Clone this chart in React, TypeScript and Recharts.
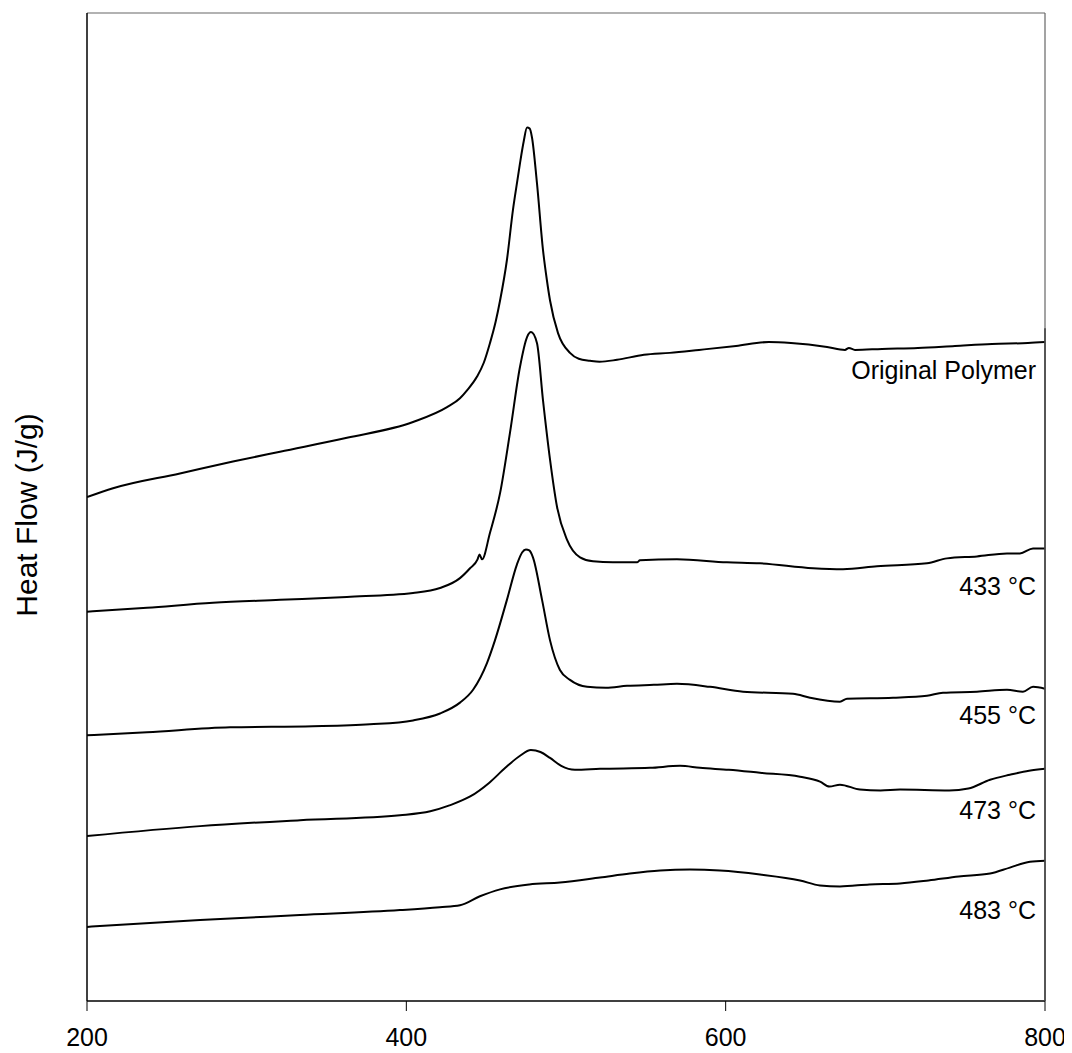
import React from "react";
import { LineChart, Line, XAxis, YAxis, ReferenceDot, ReferenceLine } from "recharts";

// Temperature (°C) and heat flow (arbitrary offset units) for each trace
const originalT = [200, 216.3, 258.2, 291.4, 320.9, 362.8, 404.2, 425.5, 433.6, 438.0, 444.3, 448.5, 452.4, 456.0, 458.7, 463.0, 466.8, 469.5, 471.2, 473.5, 475.6, 477.3, 478.7, 481.8, 485.6, 488.0, 490.0, 495.0, 502.5, 508.0, 515.0, 521.0, 532.0, 548.8, 565.0, 583.3, 606.5, 627.1, 640.9, 663.5, 674.7, 677.2, 681.0, 697.9, 720.4, 743.6, 766.8, 789.3, 800];
const originalV = [5.10, 5.19, 5.34, 5.46, 5.56, 5.70, 5.86, 6.01, 6.10, 6.18, 6.32, 6.46, 6.66, 6.88, 7.09, 7.50, 8.01, 8.30, 8.48, 8.70, 8.84, 8.83, 8.74, 8.28, 7.60, 7.30, 7.09, 6.76, 6.56, 6.50, 6.48, 6.47, 6.49, 6.54, 6.56, 6.59, 6.63, 6.67, 6.66, 6.62, 6.59, 6.61, 6.59, 6.60, 6.61, 6.63, 6.65, 6.66, 6.67];

const t433T = [200, 237.6, 278.9, 320.9, 362.8, 404.2, 421.1, 433.6, 439.9, 444.6, 445.8, 447.4, 452.4, 458.7, 464.9, 471.2, 475.6, 478.1, 481.8, 485.6, 490.0, 494.4, 500.6, 508.8, 516.9, 529.4, 544.5, 546.3, 569.5, 600.8, 621.5, 654.7, 673.5, 694.8, 726.1, 738.6, 757.4, 776.2, 784.3, 792.5, 800];
const t433V = [3.94, 3.98, 4.03, 4.06, 4.09, 4.13, 4.18, 4.28, 4.38, 4.47, 4.52, 4.47, 4.74, 5.14, 5.75, 6.42, 6.72, 6.77, 6.66, 6.08, 5.48, 5.00, 4.67, 4.49, 4.45, 4.44, 4.44, 4.46, 4.47, 4.44, 4.43, 4.38, 4.37, 4.40, 4.43, 4.48, 4.50, 4.53, 4.53, 4.58, 4.58];

const t455T = [200, 237.6, 289.6, 341.5, 377.2, 404.2, 421.1, 433.6, 441.8, 450.5, 455.5, 463.0, 469.3, 472.5, 474.9, 477.0, 479.3, 485.0, 490.0, 496.2, 502.5, 513.2, 525.0, 538.2, 555.0, 569.5, 590.2, 610.9, 642.2, 652.8, 671.6, 676.0, 704.8, 726.1, 736.1, 757.4, 776.2, 786.2, 792.5, 800];
const t455V = [2.69, 2.72, 2.77, 2.78, 2.80, 2.84, 2.91, 3.02, 3.15, 3.42, 3.65, 4.06, 4.42, 4.54, 4.57, 4.56, 4.49, 4.06, 3.65, 3.35, 3.25, 3.18, 3.17, 3.19, 3.20, 3.21, 3.18, 3.13, 3.11, 3.07, 3.03, 3.06, 3.07, 3.09, 3.12, 3.13, 3.15, 3.13, 3.18, 3.16];

const t473T = [200, 270.8, 333.4, 396.0, 415.0, 427.0, 440.0, 452.0, 462.0, 471.0, 478.0, 484.0, 490.0, 497.0, 505.6, 521.3, 552.6, 571.4, 583.9, 602.0, 621.5, 646.6, 659.1, 665.0, 671.6, 684.1, 697.0, 709.2, 740.0, 752.0, 765.6, 778.0, 790.0, 800];
const t473V = [1.67, 1.77, 1.83, 1.88, 1.92, 1.98, 2.07, 2.21, 2.36, 2.48, 2.54, 2.52, 2.46, 2.38, 2.34, 2.35, 2.36, 2.38, 2.36, 2.34, 2.31, 2.27, 2.22, 2.17, 2.19, 2.14, 2.13, 2.14, 2.13, 2.15, 2.24, 2.29, 2.33, 2.35];

const t483T = [200, 270.8, 333.4, 396.0, 421.0, 433.6, 446.1, 458.7, 477.0, 496.2, 521.3, 540.0, 559.0, 577.6, 596.4, 621.5, 646.6, 659.1, 671.6, 690.0, 709.2, 727.0, 746.0, 765.6, 778.0, 790.6, 800];
const t483V = [0.75, 0.82, 0.87, 0.92, 0.95, 0.97, 1.06, 1.13, 1.18, 1.20, 1.25, 1.29, 1.32, 1.33, 1.32, 1.28, 1.22, 1.17, 1.16, 1.18, 1.19, 1.22, 1.26, 1.29, 1.35, 1.41, 1.42];

const seriesNames = ["Original Polymer", "433 °C", "455 °C", "473 °C", "483 °C"];
const labelValues = [6.39, 4.20, 2.89, 1.93, 0.92];
const xTicks = [200, 400, 600, 800];
const yDomain = [0, 10];
const frameDarkFrom = 6.81;

const build = (ts: number[], vs: number[]) => ts.map((t, i) => ({ t, v: vs[i] }));
const seriesData = [
  build(originalT, originalV),
  build(t433T, t433V),
  build(t455T, t455V),
  build(t473T, t473V),
  build(t483T, t483V),
];

const FONT = "'Liberation Sans', Arial, sans-serif";

export default function App() {
  return (
    <div style={{ width: 1060, height: 1045, fontFamily: FONT }}>
      <LineChart
        width={1060}
        height={1045}
        margin={{ top: 4, right: 22, left: 78, bottom: 0 }}
      >
        <XAxis
          dataKey="t"
          type="number"
          domain={[200, 800]}
          ticks={xTicks}
          allowDataOverflow
          height={52}
          tickSize={10}
          tickMargin={17}
          stroke="#000"
          tickLine={{ stroke: "#000" }}
          axisLine={{ stroke: "#000", strokeWidth: 1.5 }}
          tick={{ fill: "#000", fontSize: 25, fontFamily: FONT }}
        />
        <XAxis
          xAxisId="top"
          orientation="top"
          dataKey="t"
          type="number"
          domain={[200, 800]}
          height={1}
          tick={false}
          tickLine={false}
          stroke="#666"
          axisLine={{ stroke: "#666", strokeWidth: 1.2 }}
        />
        <YAxis
          type="number"
          domain={yDomain}
          width={1}
          tick={false}
          tickLine={false}
          stroke="#000"
          axisLine={{ stroke: "#000", strokeWidth: 1.5 }}
          label={{
            content: (props: any) => {
              const vb = props.viewBox || {};
              const cx = vb.x + vb.width - 61;
              const cy = vb.y + vb.height / 2 + 8;
              return (
                <text
                  x={cx}
                  y={cy}
                  transform={`rotate(-90, ${cx}, ${cy})`}
                  textAnchor="middle"
                  dominantBaseline="central"
                  fontSize={30}
                  fontFamily={FONT}
                  fill="#000"
                >
                  Heat Flow (J/g)
                </text>
              );
            },
          }}
        />
        <YAxis
          yAxisId="right"
          orientation="right"
          type="number"
          domain={yDomain}
          width={1}
          tick={false}
          tickLine={false}
          stroke="#666"
          axisLine={{ stroke: "#666", strokeWidth: 1.2 }}
        />
        <ReferenceLine
          segment={[{ x: 800, y: frameDarkFrom }, { x: 800, y: 0 }]}
          stroke="#000"
          strokeWidth={1.5}
          ifOverflow="visible"
        />
        {seriesData.map((d, i) => (
          <Line
            key={seriesNames[i]}
            data={d}
            dataKey="v"
            name={seriesNames[i]}
            type="monotone"
            stroke="#000"
            strokeWidth={2}
            dot={false}
            activeDot={false}
            isAnimationActive={false}
          />
        ))}
        {seriesNames.map((name, i) => (
          <ReferenceDot
            key={"lbl" + i}
            x={800}
            y={labelValues[i]}
            r={1}
            fill="none"
            stroke="none"
            ifOverflow="visible"
            label={{
              content: (props: any) => {
                const vb = props.viewBox || {};
                return (
                  <text
                    x={vb.x - 8}
                    y={vb.y + (vb.height || 0) / 2}
                    textAnchor="end"
                    dominantBaseline="central"
                    fontSize={25}
                    fontFamily={FONT}
                    fill="#000"
                  >
                    {name}
                  </text>
                );
              },
            }}
          />
        ))}
      </LineChart>
    </div>
  );
}
